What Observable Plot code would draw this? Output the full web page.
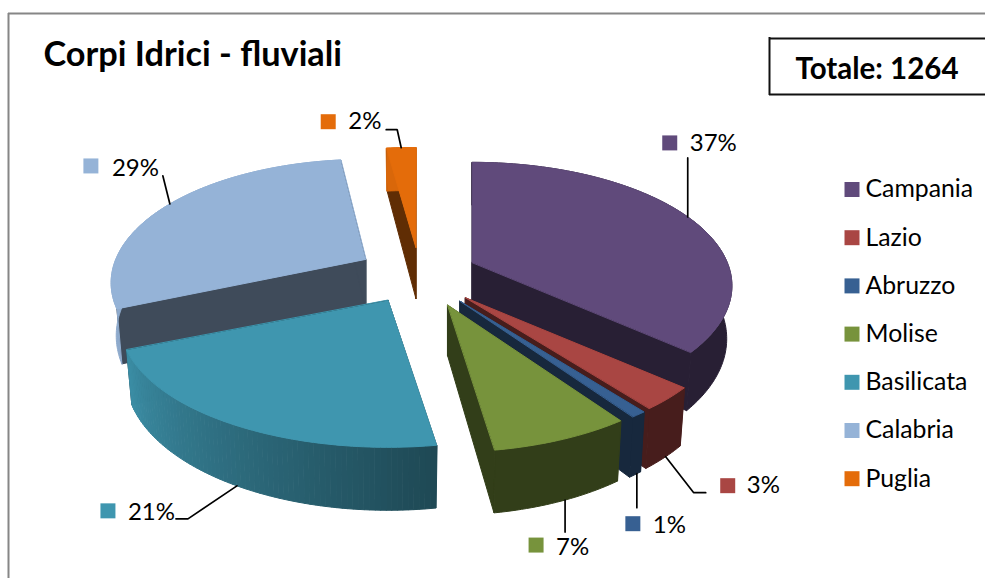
<!DOCTYPE html>
<html lang="it">
<head>
<meta charset="utf-8">
<script src="https://cdn.jsdelivr.net/npm/d3@7"></script>
<script src="https://cdn.jsdelivr.net/npm/@observablehq/plot@0.6"></script>
<style>
html,body{margin:0;padding:0;background:#fff}
svg{display:block}
</style>
</head>
<body>
<div id="chart"></div>
<script>
// ---- chart values (shares; labels show them rounded) ----
const regioni = ["Campania", "Lazio", "Abruzzo", "Molise", "Basilicata", "Calabria", "Puglia"];
const percentuali = [36.5, 3.0, 0.8, 7.3, 21.1, 29.4, 1.9];
const colori = ["#604a7b", "#a94643", "#376092", "#77933c", "#3f96af", "#95b3d7", "#e46c0a"];
const titolo = "Corpi Idrici - fluviali";
const totale = "Totale: 1264";

// ---- 3D pie model: unit disc seen in perspective ----
const W = 985, H = 578, FONT = "Lato, Carlito, 'Open Sans', sans-serif";
const model = {cx: 417, cy: 275, ex: 60, ey: 32, rx: 255, ry: 119, persp: 0.19, depth: 51, shrink: 0.98};
// small per-slice corrections of the explosion offset [dx, dy] and horizontal radius factor
const explodeNudge = {Lazio: [7, -1, 1], Abruzzo: [7, 0, 1], Molise: [8, 0, 1], Basilicata: [0, -3, 1.03], Calabria: [0, 0, 0.98], Puglia: [2, 4, 1.15]};
const rad = d => d * Math.PI / 180;
const fz = v => 1 / (1 - model.persp * v);

const somma = d3.sum(percentuali);
const fette = [];
{
  let c = 0;
  regioni.forEach((nome, i) => {
    const a0 = c / somma * 360; c += percentuali[i];
    const a1 = c / somma * 360, mid = (a0 + a1) / 2;
    const u = Math.sin(rad(mid)), v = -Math.cos(rad(mid));
    const n = explodeNudge[nome] || [0, 0, 1];
    fette.push({nome, i, a0, a1, mid, color: colori[i], pct: percentuali[i], k: n[2],
      ax: model.cx + model.ex * u + n[0], ay: model.cy + model.ey * v + n[1]});
  });
}
function proj(s, deg, bottom) {
  const u = Math.sin(rad(deg)), v = -Math.cos(rad(deg)), f = fz(v);
  let x = s.ax + model.rx * s.k * u * f, y = s.ay + model.ry * v * f;
  if (bottom) { x = s.ax + (x - s.ax) * model.shrink; y += model.depth * f; }
  return [x, y];
}
const apex = (s, bottom) => [s.ax, s.ay + (bottom ? model.depth : 0)];
function tint(hex, k) {
  const c = d3.rgb(hex);
  return d3.rgb(c.r * k, c.g * k, c.b * k).formatHex();
}
const shadeFrom = 171, shadeTo = 248;
function arcShade(deg) {
  if (deg < shadeFrom) return 0.42;
  if (deg > shadeTo) return 0.95;
  return 0.48 + 0.47 * (deg - shadeFrom) / (shadeTo - shadeFrom);
}

// faces in painter's order, back to front
const paintOrder = ["Calabria", "Puglia", "Campania", "Lazio", "Abruzzo", "Molise", "Basilicata"];
const punti = [];
let faceId = 0;
function addFace(pts, color) {
  const id = faceId++;
  pts.forEach(p => punti.push({x: p[0], y: p[1], face: id, color}));
}
function arcBand(s, a, b) {
  const up = [], down = [];
  for (let t = a; t < b; t += 1) { up.push(proj(s, t)); down.push(proj(s, t, true)); }
  up.push(proj(s, b)); down.push(proj(s, b, true));
  return up.concat(down.reverse());
}
for (const nome of paintOrder) {
  const s = fette.find(d => d.nome === nome);
  const dark = tint(s.color, 0.42);
  addFace([apex(s), proj(s, s.a0), proj(s, s.a0, true), apex(s, true)], dark);
  addFace([apex(s), proj(s, s.a1), proj(s, s.a1, true), apex(s, true)], dark);
  if (s.a1 <= shadeFrom + 1 || s.a0 >= shadeTo - 1) {
    addFace(arcBand(s, s.a0, s.a1), tint(s.color, arcShade((s.a0 + s.a1) / 2)));
  } else {
    for (let a = s.a0; a < s.a1 - 1e-6; a += 1) {
      const b = Math.min(a + 1, s.a1);
      addFace(arcBand(s, a, b), tint(s.color, arcShade((a + b) / 2)));
    }
  }
  const top = [apex(s)];
  for (let a = s.a0; a < s.a1; a += 1) top.push(proj(s, a));
  top.push(proj(s, s.a1));
  addFace(top, s.color);
}

// ---- data labels with their leader lines, placed relative to each slice's rim ----
const labelLayout = {
  Campania:   {nudge: 0,    bottom: false, path: [[0, -59]],              text: [2, -74],    mark: [-18, -74]},
  Lazio:      {nudge: -0.5, bottom: true,  path: [[28, 36], [40, 36]],    text: [81, 29],    mark: [62, 29]},
  Abruzzo:    {nudge: -0.5, bottom: true,  path: [[0, 34]],               text: [16, 52],    mark: [-4, 50]},
  Molise:     {nudge: -1,   bottom: true,  path: [[0, 32]],               text: [-9, 47],    mark: [-29, 45]},
  Basilicata: {nudge: 0,    bottom: true,  path: [[-49, 33], [-61, 33]],  text: [-109, 26],  mark: [-129, 25]},
  Calabria:   {nudge: 0.5,  bottom: false, path: [[-7, -28]],             text: [-58, -36],  mark: [-79, -38]},
  Puglia:     {nudge: 0,    bottom: false, path: [[-4, -18], [-15, -18]], text: [-53, -26],  mark: [-73, -26]}
};
const guide = [], etichette = [];
fette.forEach(s => {
  const L = labelLayout[s.nome];
  const [x0, y0] = proj(s, s.mid + L.nudge, L.bottom);
  guide.push({x: x0, y: y0, nome: s.nome});
  L.path.forEach(p => guide.push({x: x0 + p[0], y: y0 + p[1], nome: s.nome}));
  etichette.push({nome: s.nome, color: s.color, label: Math.round(s.pct) + "%",
    tx: x0 + L.text[0], ty: y0 + L.text[1], mx: x0 + L.mark[0], my: y0 + L.mark[1]});
});

// ---- legend rows ----
const legenda = regioni.map((nome, i) => ({nome, color: colori[i], row: i}));
const legendX = 851.5, legendTextX = 865, legendY = r => 189 + r * 48.2;

const chart = Plot.plot({
  width: W, height: H,
  marginTop: 0, marginRight: 0, marginBottom: 0, marginLeft: 0,
  x: {domain: [0, W], axis: null},
  y: {domain: [H, 0], axis: null},
  color: {type: "identity"},
  style: {background: "#fff", overflow: "hidden"},
  marks: [
    // chart frame
    Plot.ruleY([13], {x1: 8, x2: W, stroke: "#868686", strokeWidth: 2}),
    Plot.ruleX([8], {y1: 13, y2: H, stroke: "#868686", strokeWidth: 2}),
    // total box
    Plot.ruleY([38, 94], {x1: 769, x2: W, stroke: "#111", strokeWidth: 2}),
    Plot.ruleX([769], {y1: 37, y2: 95, stroke: "#111", strokeWidth: 2}),
    Plot.text([totale], {x: () => 795, y: () => 69, text: d => d, textAnchor: "start", fontFamily: FONT, fontWeight: 700, fontSize: 29.5, fill: "#000"}),
    Plot.text([titolo], {x: () => 43, y: () => 55, text: d => d, textAnchor: "start", fontFamily: FONT, fontWeight: 700, fontSize: 34.3, fill: "#000"}),
    // slices
    Plot.line(punti, {x: "x", y: "y", z: "face", fill: "color", stroke: "color", strokeWidth: 1, curve: "linear-closed", imageFilter: "blur(0.4px)"}),
    // leaders
    Plot.line(guide, {x: "x", y: "y", z: "nome", stroke: "#000", strokeWidth: 1.7, strokeLinejoin: "miter"}),
    Plot.dot(etichette, {x: "mx", y: "my", fill: "color", symbol: "square", r: 8.46, stroke: null}),
    Plot.text(etichette, {x: "tx", y: "ty", text: "label", textAnchor: "start", fontFamily: FONT, fontSize: 24, fill: "#000"}),
    // legend
    Plot.dot(legenda, {x: () => legendX, y: d => legendY(d.row), fill: "color", symbol: "square", r: 8.46, stroke: null}),
    Plot.text(legenda, {x: () => legendTextX, y: d => legendY(d.row), text: "nome", textAnchor: "start", fontFamily: FONT, fontSize: 24.8, fill: "#000"})
  ]
});
document.getElementById("chart").appendChild(chart);
</script>
</body>
</html>
